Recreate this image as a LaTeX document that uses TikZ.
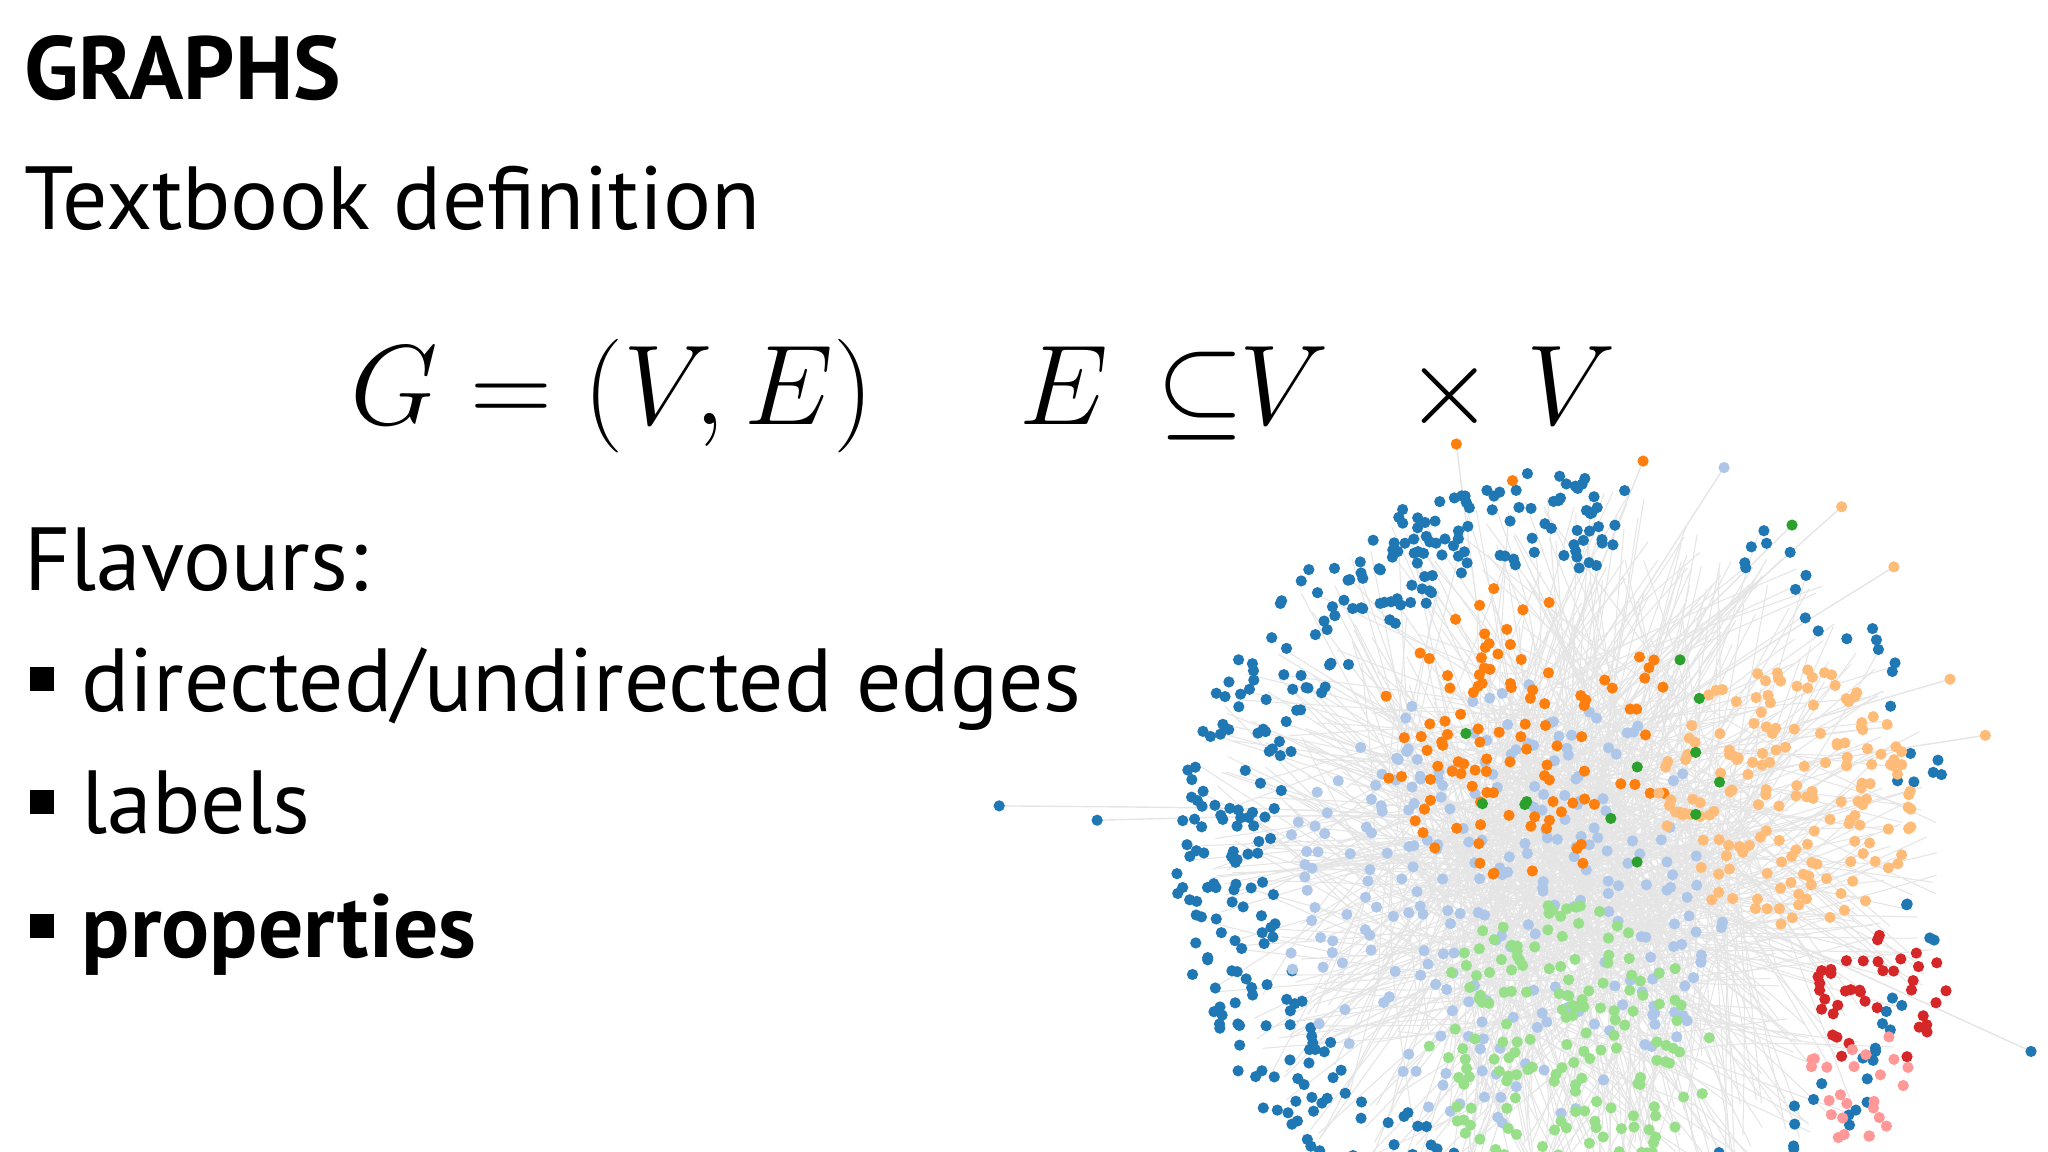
\documentclass[tikz,border=0pt]{standalone}
\usepackage{fontspec}
\setmainfont{PT Sans}
\usetikzlibrary{calc}
\begin{document}
\begin{tikzpicture}[x=0.013061cm,y=-0.013061cm,
  txt/.style={anchor=base west,inner sep=0pt,font=\fontsize{25.5}{30}\selectfont},
  mth/.style={anchor=base west,inner sep=0pt,font=\fontsize{24.88}{30}\selectfont,scale=1.3},
  bul/.style={fill=black},
  dot/.style={circle,inner sep=0pt,minimum size=3.2pt}]
\useasboundingbox (0,0) rectangle (1568,882);
\clip (0,0) rectangle (1568,882);
\definecolor{cblue}{HTML}{1F77B4}
\definecolor{corange}{HTML}{FF7F0E}
\definecolor{clorange}{HTML}{FFBB78}
\definecolor{clblue}{HTML}{AEC7E8}
\definecolor{cgreen}{HTML}{98DF8A}
\definecolor{cdgreen}{HTML}{2CA02C}
\definecolor{cred}{HTML}{D62728}
\definecolor{cpink}{HTML}{FF9896}
% text
\node[txt,font=\fontsize{25.5}{30}\selectfont\bfseries] (t) at (18,76) {GRAPHS};
\node[txt] (d) at (18,176) {Textbook definition};
\node[mth] (f1) at (268,325) {$G=(V,E)$};
\node[mth] (e1) at (780,325) {$E$};
\node[mth] (e2) at (885,325) {$\subseteq$};
\node[mth] (e3) at (948,325) {$V$};
\node[mth] (e4) at (1075,325) {$\times$};
\node[mth] (e5) at (1168,325) {$V$};
\node[txt] (fl) at (18,452) {Flavours:};
\node[txt] (b1) at (62,545) {directed/undirected edges};
\node[txt] (b2) at (62,638) {labels};
\node[txt,font=\fontsize{25.5}{30}\selectfont\bfseries] (b3) at (62,733) {properties};
\foreach \yy in {520,614,709} \fill[bul] (23,\yy-9) rectangle (41,\yy+9);
% graph
\pgfmathsetseed{12}
% edges
\foreach \i in {1,...,500}{
  \pgfmathsetmacro\ra{290*sqrt(rnd)}\pgfmathsetmacro\aa{360*rnd}
  \pgfmathsetmacro\rb{290*sqrt(rnd)}\pgfmathsetmacro\ab{360*rnd}
  \pgfmathsetmacro\rc{150*sqrt(rnd)}\pgfmathsetmacro\ac{360*rnd}
  \draw[black!10,line width=0.3pt] ($(1200,660)+(\aa:\ra)$) .. controls ($(1200,660)+(\ac:\rc)$) .. ($(1200,660)+(\ab:\rb)$);
}
\foreach \p in {(765,617),(840,628),(1115,340),(1258,353),(1320,358),(1410,388),(1450,434),(1520,563),(1555,805),(1372,402),(1493,520)}
  \draw[black!10,line width=0.4pt] \p .. controls (1150,620) .. (1230,700);
\newcommand\ring[5]{% color, R1, R2, n, angle range
  \foreach \i in {1,...,#4}{
    \pgfmathsetmacro\rr{#2+(#3-#2)*rnd}\pgfmathsetmacro\aa{#5}
    \node[dot,fill=#1] at ($(1200,660)+(\aa:\rr)$) {};}}
\newcommand\cluster[5]{% color, cx, cy, R, n
  \foreach \i in {1,...,#5}{
    \pgfmathsetmacro\rr{#4*sqrt(rnd)}\pgfmathsetmacro\aa{360*rnd}
    \node[dot,fill=#1] at ($(#2,#3)+(\aa:\rr)$) {};}}
\ring{cblue}{225}{300}{320}{110+170*rnd}
\ring{cblue}{260}{300}{60}{-60+150*rnd}
\ring{cblue}{245}{300}{25}{30+80*rnd}
\cluster{clblue}{1150}{690}{170}{260}
\cluster{corange}{1170}{560}{115}{110}
\cluster{clorange}{1370}{610}{100}{170}
\cluster{cgreen}{1200}{800}{110}{170}
\cluster{cred}{1440}{770}{55}{40}
\cluster{cpink}{1420}{830}{45}{25}
\cluster{cdgreen}{1230}{560}{110}{12}
\foreach \p in {(765,617),(840,628),(1555,805)} \node[dot,fill=cblue] at \p {};
\foreach \p in {(1115,340),(1258,353),(1158,368)} \node[dot,fill=corange] at \p {};
\foreach \p in {(1410,388),(1450,434),(1520,563),(1493,520)} \node[dot,fill=clorange] at \p {};
\node[dot,fill=clblue] at (1320,358) {};
\node[dot,fill=cdgreen] at (1372,402) {};
\end{tikzpicture}
\end{document}
